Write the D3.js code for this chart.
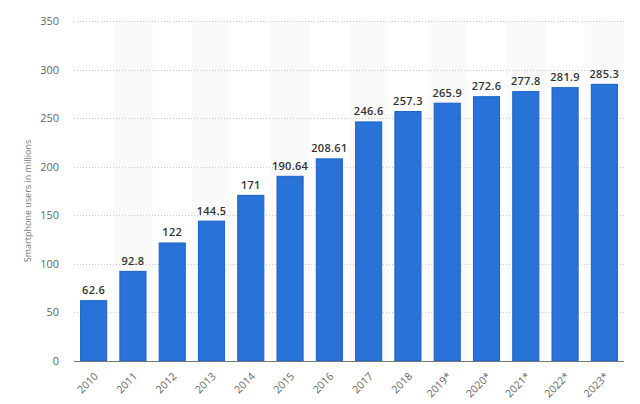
<!DOCTYPE html>
<html><head><meta charset="utf-8">
<script src="https://cdn.jsdelivr.net/npm/d3@7"></script>
<style>body{margin:0;background:#fff;}svg{display:block;font-family:"Open Sans",sans-serif;}</style>
</head><body>
<svg id="c" width="640" height="404"></svg>
<script>
const categories = ["2010","2011","2012","2013","2014","2015","2016","2017","2018","2019*","2020*","2021*","2022*","2023*"];
const values = [62.6, 92.8, 122, 144.5, 171, 190.64, 208.61, 246.6, 257.3, 265.9, 272.6, 277.8, 281.9, 285.3];
const valueLabels = ["62.6","92.8","122","144.5","171","190.64","208.61","246.6","257.3","265.9","272.6","277.8","281.9","285.3"];
const yTicks = [0, 50, 100, 150, 200, 250, 300, 350];
const yTitle = "Smartphone users in millions";

const svg = d3.select("#c");
const pL = 74, pR = 624, pT = 21, pB = 361;
const x = d3.scaleBand().domain(categories).range([pL, pR]).paddingInner(0.31).paddingOuter(0.155);
const xb = d3.scaleBand().domain(categories).range([pL, pR]).padding(0);
const y = d3.scaleLinear().domain([0, 350]).range([pB, pT]);

// alternating background
svg.append("g").selectAll("rect").data(categories.filter((d,i)=>i%2===1)).join("rect")
  .attr("x", d=>xb(d)).attr("width", xb.bandwidth())
  .attr("y", pT).attr("height", pB-pT).attr("fill", "#fafafa");

// grid
svg.append("g").selectAll("line").data(yTicks.filter(t=>t>0)).join("line")
  .attr("x1", pL).attr("x2", pR).attr("y1", d=>Math.round(y(d))+0.5).attr("y2", d=>Math.round(y(d))+0.5)
  .attr("stroke", "#c8c8c8").attr("stroke-width", 1).attr("stroke-dasharray", "1,2");

// y tick labels
const yAxis = d3.axisLeft(y).tickValues(yTicks).tickSize(0).tickPadding(0);
const ga = svg.append("g").attr("transform", `translate(${pL-15},0)`).call(yAxis);
ga.select(".domain").remove();
ga.selectAll("text").attr("font-size", 11).attr("fill", "#666").attr("font-family", "Open Sans, sans-serif");

// y title
svg.append("text").attr("transform", `translate(31,${(pT+pB)/2+10}) rotate(-90)`)
  .attr("text-anchor", "middle").attr("font-size", 9).attr("fill", "#777").text(yTitle);

// bars
svg.append("g").selectAll("rect").data(categories).join("rect")
  .attr("x", d=>x(d)+0.5).attr("width", x.bandwidth()-1)
  .attr("y", (d,i)=>y(values[i])+0.5).attr("height", (d,i)=>pB - y(values[i]) - 0.5)
  .attr("fill", "#2872d8").attr("stroke", "#1a62c6").attr("stroke-width", 1);

// value labels
svg.append("g").selectAll("text").data(categories).join("text")
  .attr("x", d=>x(d)+x.bandwidth()/2).attr("y", (d,i)=>y(values[i])-6)
  .attr("text-anchor", "middle").attr("font-size", 11).attr("font-weight", 600)
  .attr("letter-spacing", 0.3)
  .attr("fill", "#333").text((d,i)=>valueLabels[i]);

// x axis line
svg.append("line").attr("x1", pL).attr("x2", pR).attr("y1", pB+0.5).attr("y2", pB+0.5)
  .attr("stroke", "#777").attr("stroke-width", 1.2);

// x labels
const xAxis = d3.axisBottom(x).tickSize(0).tickPadding(0);
const gx = svg.append("g").attr("transform", `translate(0,${pB})`).call(xAxis);
gx.select(".domain").remove();
gx.selectAll("text").attr("font-size", 10.5).attr("fill", "#666").attr("font-family", "Open Sans, sans-serif")
  .attr("text-anchor", "end").attr("dy", null).attr("y", 0)
  .attr("transform", "translate(5,16) rotate(-45)");
</script>
</body></html>
